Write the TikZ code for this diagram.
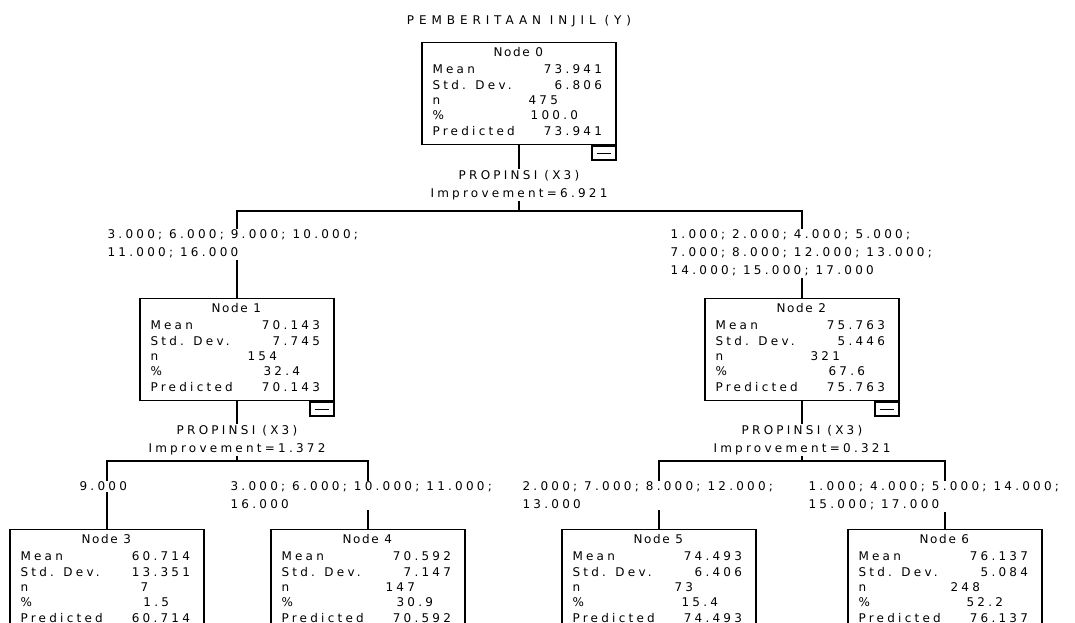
\documentclass[tikz,border=0pt]{standalone}
\usepackage{fontspec}
\setmainfont{DejaVu Sans}[LetterSpace=27]
\newcommand\cellfont{\fontsize{9pt}{13.5pt}\selectfont}
\newcommand\headfont{\fontsize{9pt}{13.5pt}\selectfont\addfontfeature{LetterSpace=14}}
\newcommand\titlefont{\fontsize{9pt}{13.5pt}\selectfont\addfontfeature{LetterSpace=41}}

\tikzset{
  txtbase/.style={font=\cellfont, inner sep=0pt},
  txt/.style={txtbase, text height=6.6pt, text depth=0pt},
  treebox/.style={draw=black, line width=1.1pt, minimum width=145.5pt, minimum height=76.5pt, anchor=north, inner sep=0pt},
  minusbox/.style={draw=black, line width=1pt, minimum width=18pt, minimum height=10.5pt, anchor=north east, inner sep=0pt},
  rowlabel/.style={txt, anchor=west},
  rowvalue/.style={txt, anchor=east},
  nvalue/.style={txt, anchor=west},
  edge/.style={draw=black, line width=1pt},
  splitlabel/.style={txtbase, anchor=north, align=center, fill=white, inner sep=1pt, font=\fontsize{9pt}{13.9pt}\selectfont},
  branchlabel/.style={txtbase, anchor=north west, align=left, fill=white, inner sep=1pt},
}

% name, centre x, top y, node number
\newcommand\treebox[4]{%
  \node[treebox] (#1) at (#2,#3) {};
  \node[txt, font=\headfont] (#1-title) at ([shift={(97,10.5)}]#1.north west) {Node #4};
}
% name
\newcommand\minusbox[1]{%
  \node[minusbox] (#1-m) at (#1.south east) {};
  \draw[line width=0.9pt] ([xshift=-5.5pt]#1-m.center) -- ([xshift=5.5pt]#1-m.center);
}
% name, mean, sd, n, n-x, pct, pct-right, predicted
\newcommand\treevals[8]{%
  \node[rowlabel] (#1-l1) at ([shift={(11,27.5)}]#1.north west) {Mean};
  \node[rowvalue] (#1-v1) at ([shift={(181,27.5)}]#1.north west) {#2};
  \node[rowlabel] (#1-l2) at ([shift={(11,42.8)}]#1.north west) {Std. Dev.};
  \node[rowvalue] (#1-v2) at ([shift={(181,42.8)}]#1.north west) {#3};
  \node[rowlabel] (#1-l3) at ([shift={(11,58.1)}]#1.north west) {n};
  \node[nvalue] (#1-v3) at ([shift={(#5,58.1)}]#1.north west) {#4};
  \node[rowlabel] (#1-l4) at ([shift={(11,73.4)}]#1.north west) {\%};
  \node[rowvalue] (#1-v4) at ([shift={(#7,73.4)}]#1.north west) {#6};
  \node[rowlabel] (#1-l5) at ([shift={(11,88.7)}]#1.north west) {Predicted};
  \node[rowvalue] (#1-v5) at ([shift={(181,88.7)}]#1.north west) {#8};
}

\begin{document}
\begin{tikzpicture}[x=0.75pt,y=-0.75pt]
\clip (0,0) rectangle (1075,623);
\useasboundingbox (0,0) rectangle (1075,623);
\fill[white] (0,0) rectangle (1075,623);

\node[txt, font=\titlefont] (title) at (519,20) {PEMBERITAAN INJIL (Y)};

% boxes
\treebox{n0}{519}{42}{0}
\treevals{n0}{73.941}{6.806}{475}{107}{100.0}{157}{73.941}
\minusbox{n0}

\treebox{n1}{237}{298}{1}
\treevals{n1}{70.143}{7.745}{154}{108}{32.4}{161}{70.143}
\minusbox{n1}

\treebox{n2}{802}{298}{2}
\treevals{n2}{75.763}{5.446}{321}{106}{67.6}{161}{75.763}
\minusbox{n2}

\treebox{n3}{107}{529}{3}
\treevals{n3}{60.714}{13.351}{7}{131}{1.5}{160}{60.714}

\treebox{n4}{368}{529}{4}
\treevals{n4}{70.592}{7.147}{147}{115}{30.9}{163}{70.592}

\treebox{n5}{659}{529}{5}
\treevals{n5}{74.493}{6.406}{73}{113}{15.4}{157}{74.493}

\treebox{n6}{945}{529}{6}
\treevals{n6}{76.137}{5.084}{248}{103}{52.2}{156}{76.137}

% connectors
\coordinate (h0) at (519,211);
\coordinate (h1) at (237,461);
\coordinate (h2) at (802,461);
\draw[edge] (n0.south) -- (h0);
\draw[edge] (h0) -| (n1.north);
\draw[edge] (h0) -| (n2.north);
\draw[edge] (n1.south) -- (h1);
\draw[edge] (h1) -| (n3.north);
\draw[edge] (h1) -| (n4.north);
\draw[edge] (n2.south) -- (h2);
\draw[edge] (h2) -| (n5.north);
\draw[edge] (h2) -| (n6.north);

% split labels
\node[splitlabel] (s0) at (519,168.3) {PROPINSI (X3)\\Improvement=6.921};
\node[splitlabel] (s1) at (237,423.3) {PROPINSI (X3)\\Improvement=1.372};
\node[splitlabel] (s2) at (802,423.3) {PROPINSI (X3)\\Improvement=0.321};

% branch labels
\node[branchlabel] (b1) at (106,228.3) {3.000; 6.000; 9.000; 10.000;\\11.000; 16.000};
\node[branchlabel] (b2) at (669,228.3) {1.000; 2.000; 4.000; 5.000;\\7.000; 8.000; 12.000; 13.000;\\14.000; 15.000; 17.000};
\node[branchlabel] (b3) at (78,480.3) {9.000};
\node[branchlabel] (b4) at (229,480.3) {3.000; 6.000; 10.000; 11.000;\\16.000};
\node[branchlabel] (b5) at (521,480.3) {2.000; 7.000; 8.000; 12.000;\\13.000};
\node[branchlabel] (b6) at (807,480.3) {1.000; 4.000; 5.000; 14.000;\\15.000; 17.000};
\end{tikzpicture}
\end{document}
